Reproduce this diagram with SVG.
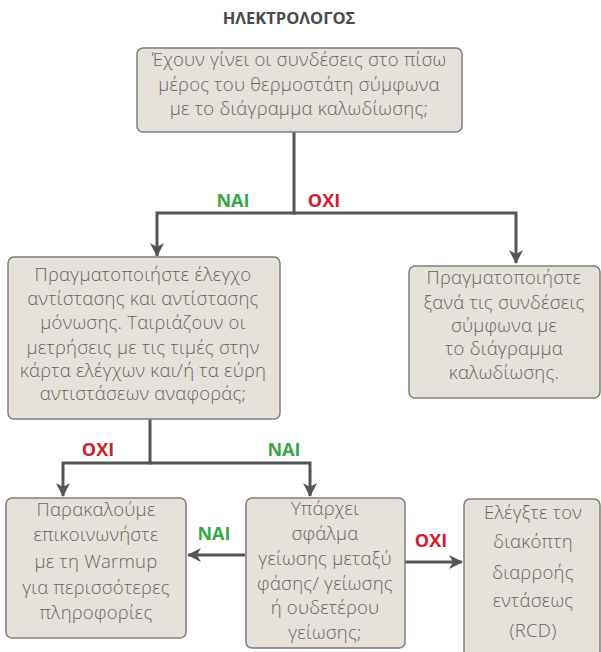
<svg xmlns="http://www.w3.org/2000/svg" width="601" height="652" viewBox="0 0 601 652">
  <style>
    .box { fill: #e6e2db; stroke: #7d7d7d; stroke-width: 1.5; }
    .txt { font-family: "Open Sans", "Liberation Sans", sans-serif; font-weight: 300; font-size: 18.5px; letter-spacing: 0.25px; fill: #666666; text-anchor: middle; }
    .title { font-family: "Open Sans", "Liberation Sans", sans-serif; font-weight: 700; font-size: 16.5px; fill: #4a4a4a; text-anchor: middle; }
    .yes { font-family: "Open Sans", "Liberation Sans", sans-serif; font-weight: 700; font-size: 18px; fill: #3aa648; text-anchor: middle; }
    .no { font-family: "Open Sans", "Liberation Sans", sans-serif; font-weight: 700; font-size: 18px; fill: #d0202e; text-anchor: middle; }
    .conn { fill: none; stroke: #555555; stroke-width: 3; }
  </style>
  <defs>
    <marker id="arrow" markerUnits="userSpaceOnUse" viewBox="0 0 14 14" refX="13" refY="7" markerWidth="14" markerHeight="14" orient="auto">
      <path d="M0,0 L14,7 L0,14 L4,7 z" fill="#555555"/>
    </marker>
  </defs>

  <rect width="601" height="652" fill="#ffffff"/>

  <text class="title" x="289" y="24">ΗΛΕΚΤΡΟΛΟΓΟΣ</text>

  <!-- connectors -->
  <g id="connectors">
    <path class="conn" d="M294,132 V213"/>
    <path class="conn" d="M295.5,213 H157 V256" marker-end="url(#arrow)"/>
    <path class="conn" d="M292.5,213 H516 V263" marker-end="url(#arrow)"/>
    <path class="conn" d="M150,419 V463"/>
    <path class="conn" d="M151.5,463 H63 V496" marker-end="url(#arrow)"/>
    <path class="conn" d="M148.5,463 H310 V496" marker-end="url(#arrow)"/>
    <path class="conn" d="M245,555 H188" marker-end="url(#arrow)"/>
    <path class="conn" d="M405,562 H462" marker-end="url(#arrow)"/>
    <text class="yes" x="233" y="207">ΝΑΙ</text>
    <text class="no" x="324" y="207">ΟΧΙ</text>
    <text class="no" x="98" y="456">ΟΧΙ</text>
    <text class="yes" x="284" y="456">ΝΑΙ</text>
    <text class="yes" x="214" y="540">ΝΑΙ</text>
    <text class="no" x="431" y="547">ΟΧΙ</text>
  </g>

  <g id="q-connections">
    <rect class="box" x="137" y="48" width="325" height="84" rx="6"/>
    <text class="txt" x="299" y="66">Έχουν γίνει οι συνδέσεις στο πίσω</text>
    <text class="txt" x="299" y="91">μέρος του θερμοστάτη σύμφωνα</text>
    <text class="txt" x="299" y="115">με το διάγραμμα καλωδίωσης;</text>
  </g>

  <g id="q-resistance">
    <rect class="box" x="8" y="257" width="272" height="162" rx="6"/>
    <text class="txt" x="143" y="281">Πραγματοποιήστε έλεγχο</text>
    <text class="txt" x="143" y="305">αντίστασης και αντίστασης</text>
    <text class="txt" x="143" y="329">μόνωσης. Ταιριάζουν οι</text>
    <text class="txt" x="143" y="354">μετρήσεις με τις τιμές στην</text>
    <text class="txt" x="143" y="377">κάρτα ελέγχων και/ή τα εύρη</text>
    <text class="txt" x="143" y="400">αντιστάσεων αναφοράς;</text>
  </g>

  <g id="redo-connections">
    <rect class="box" x="409" y="266" width="191" height="132" rx="6"/>
    <text class="txt" x="504" y="284">Πραγματοποιήστε</text>
    <text class="txt" x="504" y="309">ξανά τις συνδέσεις</text>
    <text class="txt" x="504" y="332">σύμφωνα με</text>
    <text class="txt" x="504" y="355">το διάγραμμα</text>
    <text class="txt" x="504" y="379">καλωδίωσης.</text>
  </g>

  <g id="contact-warmup">
    <rect class="box" x="6" y="498" width="180" height="140" rx="6"/>
    <text class="txt" x="96" y="516">Παρακαλούμε</text>
    <text class="txt" x="96" y="541">επικοινωνήστε</text>
    <text class="txt" x="96" y="568">με τη Warmup</text>
    <text class="txt" x="96" y="594">για περισσότερες</text>
    <text class="txt" x="96" y="619">πληροφορίες</text>
  </g>

  <g id="q-earth-fault">
    <rect class="box" x="246" y="498" width="159" height="150" rx="6"/>
    <text class="txt" x="325" y="515">Υπάρχει</text>
    <text class="txt" x="325" y="540">σφάλμα</text>
    <text class="txt" x="325" y="565">γείωσης μεταξύ</text>
    <text class="txt" x="325" y="590">φάσης/ γείωσης</text>
    <text class="txt" x="325" y="614">ή ουδετέρου</text>
    <text class="txt" x="325" y="639">γείωσης;</text>
  </g>

  <g id="check-rcd">
    <rect class="box" x="464" y="499" width="136" height="158" rx="6"/>
    <text class="txt" x="533" y="519">Ελέγξτε τον</text>
    <text class="txt" x="533" y="548">διακόπτη</text>
    <text class="txt" x="533" y="579">διαρροής</text>
    <text class="txt" x="533" y="607">εντάσεως</text>
    <text class="txt" x="533" y="637">(RCD)</text>
  </g>
</svg>
